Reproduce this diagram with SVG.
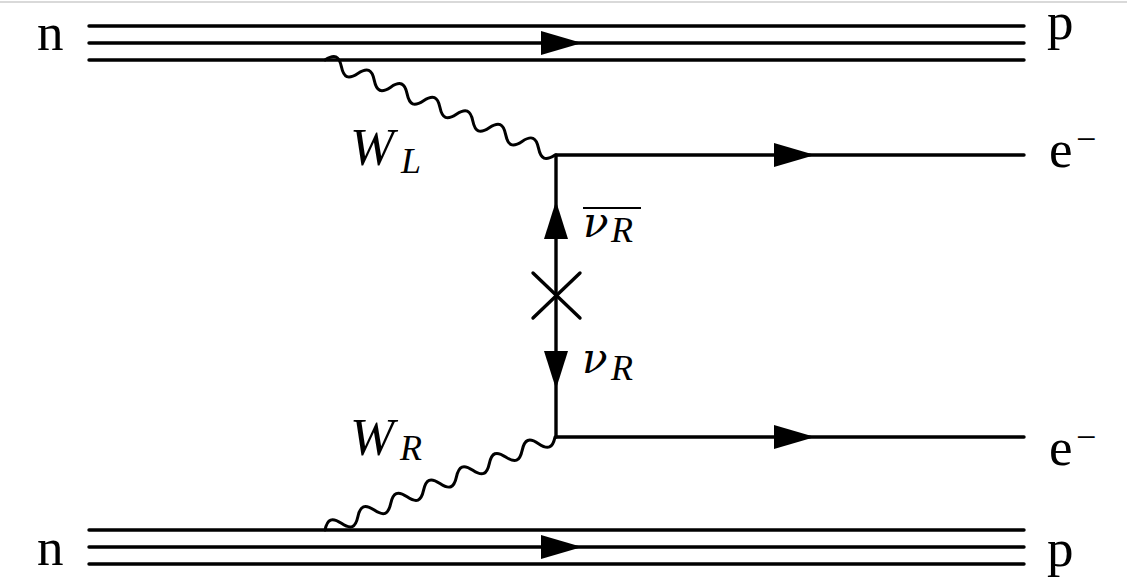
<svg xmlns="http://www.w3.org/2000/svg" width="1127" height="579" viewBox="0 0 1127 579">
<style>
.ln{stroke:#000;stroke-width:3.4;fill:none;stroke-linecap:round}
.ph{stroke:#000;stroke-width:3;fill:none;stroke-linecap:round}
.ah{fill:#000;stroke:none}
.t{font-family:"Liberation Serif","DejaVu Serif",serif;font-size:53px;fill:#000}
.i{font-style:italic}
.s{font-size:36px}
.g{font-family:"DejaVu Serif",serif;font-size:42px}
</style>
<rect x="0" y="0" width="1127" height="579" fill="#fff"/>
<line x1="0" y1="2" x2="1127" y2="2" stroke="#cccccc" stroke-width="1.5"/>
<g id="connectors">
  <g id="nucleon-top">
    <line class="ln" x1="89" y1="26" x2="1024" y2="26"/>
    <line class="ln" x1="89" y1="43" x2="1024" y2="43"/>
    <line class="ln" x1="89" y1="60" x2="1024" y2="60"/>
    <polygon class="ah" points="541,31 582,43 541,55"/>
  </g>
  <g id="nucleon-bottom">
    <line class="ln" x1="89" y1="530" x2="1024" y2="530"/>
    <line class="ln" x1="89" y1="547" x2="1024" y2="547"/>
    <line class="ln" x1="89" y1="564" x2="1024" y2="564"/>
    <polygon class="ah" points="541,535 582,547 541,559"/>
  </g>
  <g id="electron-top">
    <line class="ln" x1="556" y1="155" x2="1024" y2="155"/>
    <polygon class="ah" points="774,143 815,155 774,167"/>
  </g>
  <g id="electron-bottom">
    <line class="ln" x1="556" y1="437" x2="1024" y2="437"/>
    <polygon class="ah" points="774,425 815,437 774,449"/>
  </g>
  <g id="neutrino">
    <line class="ln" x1="556" y1="155" x2="556" y2="437"/>
    <polygon class="ah" points="544,239 556,201 568,239"/>
    <polygon class="ah" points="544,351 568,351 556,389"/>
    <line class="ln" x1="533" y1="273" x2="580" y2="318"/>
    <line class="ln" x1="580" y1="273" x2="533" y2="318"/>
  </g>
  <path id="WL-line" class="ph" transform="translate(325,60) rotate(22.44)" d="M0,0 c6.4,-9.4 11.37,-9.4 17.77,0 c6.4,9.4 11.37,9.4 17.77,0 c6.4,-9.4 11.37,-9.4 17.77,0 c6.4,9.4 11.37,9.4 17.77,0 c6.4,-9.4 11.37,-9.4 17.77,0 c6.4,9.4 11.37,9.4 17.77,0 c6.4,-9.4 11.37,-9.4 17.77,0 c6.4,9.4 11.37,9.4 17.77,0 c6.4,-9.4 11.37,-9.4 17.77,0 c6.4,9.4 11.37,9.4 17.77,0 c6.4,-9.4 11.37,-9.4 17.77,0 c6.4,9.4 11.37,9.4 17.77,0 c6.4,-9.4 11.37,-9.4 17.77,0 c6.4,9.4 11.37,9.4 17.77,0"/>
  <path id="WR-line" class="ph" transform="translate(325,530) rotate(-22.0)" d="M0,0 c6.4,-9.4 11.32,-9.4 17.72,0 c6.4,9.4 11.32,9.4 17.72,0 c6.4,-9.4 11.32,-9.4 17.72,0 c6.4,9.4 11.32,9.4 17.72,0 c6.4,-9.4 11.32,-9.4 17.72,0 c6.4,9.4 11.32,9.4 17.72,0 c6.4,-9.4 11.32,-9.4 17.72,0 c6.4,9.4 11.32,9.4 17.72,0 c6.4,-9.4 11.32,-9.4 17.72,0 c6.4,9.4 11.32,9.4 17.72,0 c6.4,-9.4 11.32,-9.4 17.72,0 c6.4,9.4 11.32,9.4 17.72,0 c6.4,-9.4 11.32,-9.4 17.72,0 c6.4,9.4 11.32,9.4 17.72,0"/>
</g>
<g id="n-top"><text class="t" x="37" y="50">n</text></g>
<g id="n-bottom"><text class="t" x="37" y="565">n</text></g>
<g id="p-top"><text class="t" x="1047" y="39">p</text></g>
<g id="p-bottom"><text class="t" x="1047" y="566">p</text></g>
<g id="e-top"><text class="t" x="1049" y="167">e<tspan class="s" x="1076" y="151">−</tspan></text></g>
<g id="e-bottom"><text class="t" x="1049" y="465">e<tspan class="s" x="1076" y="449">−</tspan></text></g>
<g id="WL"><text class="t i" x="350" y="165">W<tspan class="s" x="401" y="173">L</tspan></text></g>
<g id="WR"><text class="t i" x="350" y="455">W<tspan class="s" x="400" y="460">R</tspan></text></g>
<g id="nubar"><text class="t i" x="583" y="237"><tspan class="g">ν</tspan><tspan class="s" x="611" y="242">R</tspan></text>
  <line x1="583" y1="208" x2="641" y2="208" stroke="#000" stroke-width="2.2"/></g>
<g id="nu"><text class="t i" x="582" y="373"><tspan class="g">ν</tspan><tspan class="s" x="611" y="380">R</tspan></text></g>
</svg>
